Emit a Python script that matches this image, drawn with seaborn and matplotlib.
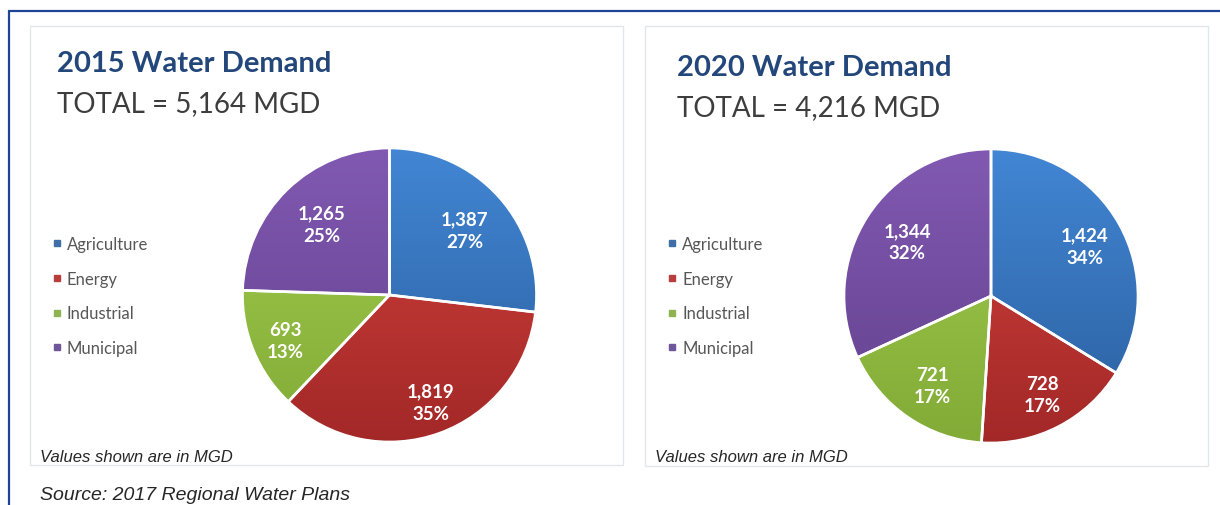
import numpy as np
import matplotlib
matplotlib.use("Agg")
import matplotlib.pyplot as plt
import seaborn as sns
from matplotlib.lines import Line2D
from matplotlib.patches import Rectangle
from matplotlib.colors import to_rgb

# ---- data -------------------------------------------------------------
categories = ["Agriculture", "Energy", "Industrial", "Municipal"]
years = ["2015", "2020"]
demand_2015 = [1387, 1819, 693, 1265]
demand_2020 = [1424, 728, 721, 1344]
totals = [5164, 4216]
pct_2015 = [27, 35, 13, 25]
pct_2020 = [34, 17, 17, 32]
note_text = "Values shown are in MGD"
source_text = "Source: 2017 Regional Water Plans"

# ---- style ------------------------------------------------------------
sns.set_theme(style="white")
plt.rcParams["font.family"] = ["Lato", "DejaVu Sans"]

W, H = 1220, 506
fig = plt.figure(figsize=(W / 100, H / 100), dpi=100)
fig.patch.set_facecolor("white")

def fx(x):
    return x / W

def fy(y):
    return 1 - y / H

# light / dark ends of each slice colour, plus legend swatch colour
light = sns.color_palette(["#4286d4", "#d4433e", "#a3cd4e", "#8159b2"])
dark = sns.color_palette(["#2a5e9d", "#a22827", "#82ab37", "#62408c"])
swatch = sns.color_palette(["#3f6fa6", "#b83e3d", "#90b352", "#6f569b"])

title_color = "#23477a"
sub_color = "#3d3d3d"
legend_color = "#575757"

# outer frame lines (top and left)
fig.add_artist(Line2D([fx(9), fx(W)], [fy(12), fy(12)], color="#1d4596", lw=1.6))
fig.add_artist(Line2D([fx(9), fx(9)], [fy(12), 0], color="#1d4596", lw=1.6))

panels = [
    dict(x0=30, x1=623, y0=27, y1=466, cx=389.5, cy=296, tx=57, ty=63.5, sy=104,
         lx=52, note_x=40, vals=demand_2015, pcts=pct_2015,
         offs=[(0.51, 0.44), (0.28, -0.73), (-0.71, -0.31), (-0.46, 0.48)]),
    dict(x0=645, x1=1208, y0=27, y1=467, cx=991, cy=297, tx=677, ty=68.5, sy=108,
         lx=667, note_x=655, vals=demand_2020, pcts=pct_2020,
         offs=[(0.64, 0.34), (0.35, -0.67), (-0.40, -0.61), (-0.57, 0.37)]),
]

R = 147
pad = 1.04
grad = np.linspace(0, 1, 256)[:, None]

for i, p in enumerate(panels):
    # panel box
    fig.add_artist(Rectangle((fx(p["x0"]), fy(p["y1"])), fx(p["x1"] - p["x0"]),
                             (p["y1"] - p["y0"]) / H, transform=fig.transFigure,
                             facecolor="white", edgecolor="#e1e6ec", lw=1.0, zorder=0))

    fig.text(fx(p["tx"]), fy(p["ty"]), f"{years[i]} Water Demand", fontsize=21,
             fontweight="bold", color=title_color, va="center", ha="left")
    fig.text(fx(p["tx"]), fy(p["sy"]), f"TOTAL = {totals[i]:,} MGD", fontsize=20,
             color=sub_color, va="center", ha="left")

    # pie with a top-to-bottom shade in every slice
    ax = fig.add_axes([fx(p["cx"] - R * pad), fy(p["cy"] + R * pad),
                       2 * R * pad / W, 2 * R * pad / H])
    wedges, _ = ax.pie(p["vals"], startangle=90, counterclock=False, radius=1,
                       wedgeprops=dict(edgecolor="white", linewidth=1.9))
    for k, w in enumerate(wedges):
        c0, c1 = np.array(to_rgb(light[k])), np.array(to_rgb(dark[k]))
        img = c0[None, None, :] * (1 - grad[..., None]) + c1[None, None, :] * grad[..., None]
        im = ax.imshow(img, extent=(-1, 1, -1, 1), origin="upper", aspect="auto",
                       zorder=1, interpolation="bilinear")
        im.set_clip_path(w)
        w.set_facecolor("none")
        w.set_zorder(2)
        dx, dy = p["offs"][k]
        ax.text(dx, dy, f"{p['vals'][k]:,}\n{p['pcts'][k]}%", ha="center", va="center",
                color="white", fontsize=13.5, fontweight="bold", linespacing=1.4, zorder=3)
    ax.set_xlim(-pad, pad)
    ax.set_ylim(-pad, pad)
    ax.set_aspect("auto")
    ax.axis("off")

    # legend
    handles = [Line2D([], [], marker="s", linestyle="none", markersize=4.4,
                      markerfacecolor=swatch[k], markeredgecolor=swatch[k])
               for k in range(len(categories))]
    fig.legend(handles, categories, loc="center left",
               bbox_to_anchor=(fx(p["lx"]), fy(297)), frameon=False, fontsize=12,
               handlelength=0.6, handletextpad=0.3, labelspacing=1.13,
               borderpad=0, borderaxespad=0, labelcolor=legend_color)

    fig.text(fx(p["note_x"]), fy(458), note_text, fontsize=12, style="italic",
             family=["Liberation Sans", "DejaVu Sans"], color="#262626",
             va="center", ha="left")

fig.text(fx(40), fy(496), source_text, fontsize=14, style="italic",
         family=["Liberation Sans", "DejaVu Sans"], color="#262626",
         va="center", ha="left")

fig.savefig("out.png", dpi=100, facecolor="white")
